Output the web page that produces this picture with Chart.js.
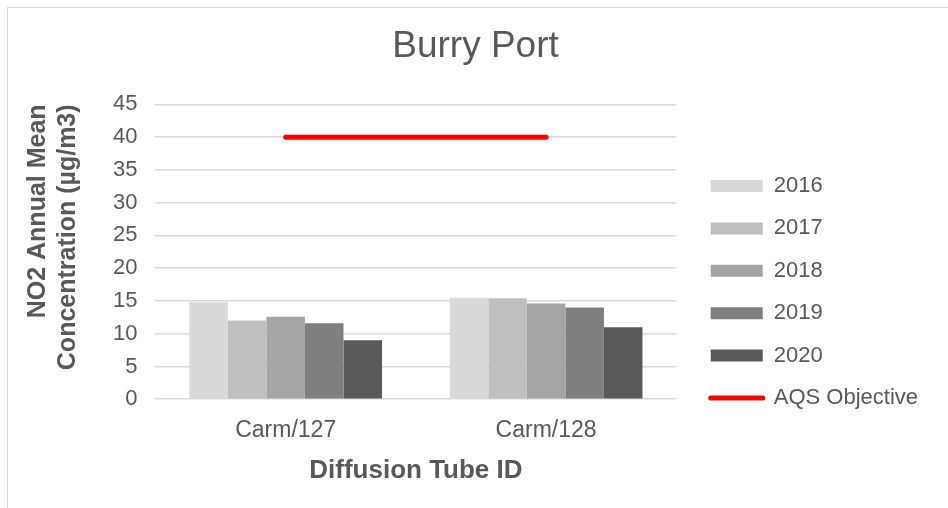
<!DOCTYPE html>
<html>
<head>
<meta charset="utf-8">
<script src="https://cdn.jsdelivr.net/npm/chart.js@4"></script>
<style>
  html, body { margin: 0; padding: 0; background: #fff; overflow: hidden; }
  #frame { position: absolute; left: 7px; top: 7px; width: 1100px; height: 700px; border: 1px solid #d9d9d9; }
  #wrap { position: absolute; left: 0; top: 0; width: 948px; height: 508px; }
</style>
</head>
<body>
<div id="frame"></div>
<div id="wrap"><canvas id="chart"></canvas></div>
<script>
// chart data
const tubes = ['Carm/127', 'Carm/128'];
const years = ['2016', '2017', '2018', '2019', '2020'];
const values2016 = [14.8, 15.5];
const values2017 = [12.0, 15.4];
const values2018 = [12.6, 14.6];
const values2019 = [11.6, 14.0];
const values2020 = [9.0, 11.0];
const aqsObjective = [40, 40];
const yTicks = [0, 5, 10, 15, 20, 25, 30, 35, 40, 45];

const greys = ['#d9d9d9', '#bfbfbf', '#a5a5a5', '#7f7f7f', '#595959'];
const textColor = '#595959';
const fontFamily = '"Liberation Sans", Arial, sans-serif';

const barSeries = [values2016, values2017, values2018, values2019, values2020];

const datasets = barSeries.map(function(vals, i) {
    return {
        type: 'bar',
        label: years[i],
        data: vals,
        backgroundColor: greys[i],
        borderWidth: 0,
        barPercentage: 1.0,
        categoryPercentage: 0.74,
        order: 2
    };
});

datasets.push({
    type: 'line',
    label: 'AQS Objective',
    data: aqsObjective,
    borderColor: '#ff0000',
    backgroundColor: '#ff0000',
    borderWidth: 5,
    borderCapStyle: 'round',
    pointRadius: 0,
    fill: false,
    order: 1
});

const ctx = document.getElementById('chart').getContext('2d');
new Chart(ctx, {
    data: { labels: tubes, datasets: datasets },
    options: {
        responsive: true,
        maintainAspectRatio: false,
        animation: false,
        layout: { padding: { left: 23, right: 20, top: 10, bottom: 22 } },
        plugins: {
            title: {
                display: true,
                text: 'Burry Port',
                color: textColor,
                font: { family: fontFamily, size: 37, weight: 'normal' },
                padding: { top: 15, bottom: 35 }
            },
            legend: {
                position: 'right',
                align: 'start',
                maxWidth: 320,
                // blank title only pushes the entries down
                title: {
                    display: true,
                    text: '',
                    font: { size: 10, lineHeight: 1 },
                    padding: { top: 134.6, bottom: 0 }
                },
                labels: {
                    color: textColor,
                    font: { family: fontFamily, size: 22 },
                    usePointStyle: true,
                    pointStyleWidth: 52,
                    boxHeight: 12,
                    padding: 20.4,
                    sort: function(a, b) { return a.datasetIndex - b.datasetIndex; },
                    generateLabels: function(chart) {
                        const items = Chart.defaults.plugins.legend.labels.generateLabels(chart);
                        items.forEach(function(item) {
                            const ds = chart.data.datasets[item.datasetIndex];
                            if (ds.type === 'line') {
                                item.pointStyle = 'line';
                                item.strokeStyle = '#ff0000';
                                item.lineWidth = 5;
                                item.lineCap = 'round';
                            } else {
                                item.pointStyle = 'rect';
                                item.fillStyle = ds.backgroundColor;
                                item.lineWidth = 0;
                            }
                        });
                        return items;
                    }
                }
            },
            tooltip: { enabled: false }
        },
        scales: {
            x: {
                grid: { display: false },
                border: { display: false },
                ticks: {
                    color: textColor,
                    font: { family: fontFamily, size: 23 },
                    padding: 10
                },
                title: {
                    display: true,
                    text: 'Diffusion Tube ID',
                    color: textColor,
                    font: { family: fontFamily, size: 26, weight: 'bold' },
                    padding: { top: 0, bottom: 0 }
                }
            },
            y: {
                min: 0,
                max: 45,
                afterBuildTicks: function(axis) {
                    axis.ticks = yTicks.map(function(v) { return { value: v }; });
                },
                grid: { color: '#d9d9d9', lineWidth: 1.5, drawTicks: false },
                border: { display: false },
                ticks: {
                    color: textColor,
                    font: { family: fontFamily, size: 22 },
                    padding: 18
                },
                title: {
                    display: true,
                    text: ['NO2 Annual Mean', 'Concentration (µg/m3)'],
                    color: textColor,
                    align: 'end',
                    font: { family: fontFamily, size: 25, weight: 'bold', lineHeight: 1.2 },
                    padding: { top: 0, bottom: 12 }
                }
            },
            // empty spacer between plot and legend
            gap: {
                type: 'linear',
                position: 'right',
                display: true,
                grid: { display: false },
                border: { display: false },
                ticks: { display: false },
                afterFit: function(scale) { scale.width = 14; }
            }
        }
    }
});
</script>
</body>
</html>
